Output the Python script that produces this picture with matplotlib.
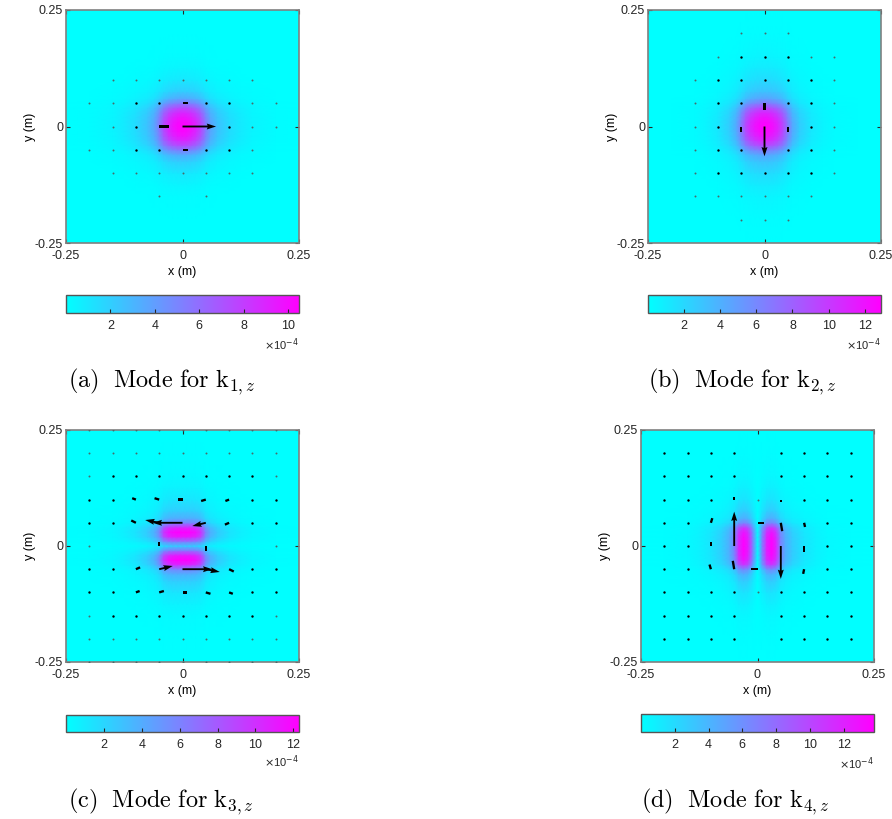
import numpy as np
import matplotlib
matplotlib.use("Agg")
import matplotlib.pyplot as plt

plt.rcParams['font.family'] = ['Liberation Sans', 'DejaVu Sans']

# field profiles, at these offsets from the centre (m),
# mirrored about 0 (values are fractions of each panel's peak)
half_pos = [0, 0.01, 0.02, 0.03, 0.04, 0.05, 0.06, 0.075, 0.1, 0.125, 0.15, 0.2, 0.25]

prof_x_a = [1.0, 0.98, 0.93, 0.85, 0.72, 0.52, 0.36, 0.24, 0.14, 0.08, 0.04, 0.01, 0]
prof_y_a = [1.0, 0.98, 0.93, 0.85, 0.72, 0.52, 0.34, 0.20, 0.09, 0.04, 0.015, 0, 0]
prof_x_b = [1.0, 0.98, 0.93, 0.85, 0.72, 0.52, 0.34, 0.20, 0.09, 0.04, 0.015, 0, 0]
prof_y_b = [1.0, 0.98, 0.93, 0.85, 0.72, 0.52, 0.36, 0.24, 0.14, 0.08, 0.04, 0.01, 0]
prof_x_c = [1.0, 1.0, 0.98, 0.93, 0.80, 0.48, 0.32, 0.21, 0.11, 0.06, 0.03, 0.008, 0]
prof_y_c = [0.2, 0.55, 0.90, 1.0, 0.85, 0.48, 0.32, 0.20, 0.10, 0.05, 0.02, 0.005, 0]
prof_x_d = [0.02, 0.50, 0.88, 1.0, 0.85, 0.48, 0.32, 0.20, 0.10, 0.05, 0.02, 0.005, 0]
prof_y_d = [1.0, 1.0, 0.98, 0.93, 0.80, 0.48, 0.32, 0.21, 0.11, 0.06, 0.03, 0.008, 0]

# colourbar maxima (x 1e-4)
peaks = [10.5, 12.9, 12.3, 13.8]
cbar_ticks = [[2, 4, 6, 8, 10], [2, 4, 6, 8, 10, 12], [2, 4, 6, 8, 10, 12], [2, 4, 6, 8, 10, 12]]

# quiver grid: columns x = -0.25..0.25, rows y = 0.25..-0.25 (step 0.05)
# 'o' = visible dot, '.' = faint dot
dots_a = ["           ",
          "           ",
          "           ",
          "  .......  ",
          " ..oo oo.. ",
          "  .o   o.. ",
          " ..oo oo.  ",
          "  .......  ",
          "    . .    ",
          "           ",
          "           "]
dots_b = ["           ",
          "    ...    ",
          "   .ooo..  ",
          "  .ooooo.  ",
          "  .oo oo.  ",
          "  .o   o.  ",
          "  .oo oo.  ",
          "  .ooooo.  ",
          "  ......   ",
          "    ...    ",
          "           "]
dots_c = [" ......... ",
          " ......... ",
          " .ooooooo. ",
          " oo     oo ",
          " oo     oo ",
          " .       . ",
          " oo     oo ",
          " oo     oo ",
          " .ooooooo. ",
          " ......... ",
          " ......... "]
dots_d = ["           ",
          " oooo oooo ",
          " oooo oooo ",
          " ooo . ooo ",
          " oo     oo ",
          " oo     oo ",
          " oo     oo ",
          " oooo.oooo ",
          " oooo oooo ",
          " oooo oooo ",
          "           "]

# arrows (x, y, u, v) in metres as drawn
arrows_a = [(0, 0, 0.072, 0), (-0.05, 0, 0.02, 0),
            (0, 0.05, 0.012, 0), (0, -0.05, 0.012, 0)]
arrows_b = [(0, 0, 0, -0.064), (0, 0.05, 0, -0.015),
            (-0.05, 0, 0, -0.012), (0.05, 0, 0, -0.012)]
arrows_c = [(-0.1, 0.1, -0.008, 0.003), (-0.05, 0.1, -0.01, 0.003), (0, 0.1, -0.01, 0),
            (0.05, 0.1, -0.01, -0.003), (0.1, 0.1, -0.008, -0.003),
            (-0.1, 0.05, -0.01, 0.005), (-0.05, 0.05, -0.03, 0.006), (0, 0.05, -0.064, 0),
            (0.05, 0.05, -0.029, -0.007), (0.1, 0.05, -0.009, -0.004),
            (-0.05, 0, 0, 0.009), (0.05, 0, 0, -0.01),
            (-0.1, -0.05, 0.009, 0.004), (-0.05, -0.05, 0.029, 0.007), (0, -0.05, 0.064, 0),
            (0.05, -0.05, 0.03, -0.006), (0.1, -0.05, 0.01, -0.005),
            (-0.1, -0.1, 0.008, 0.003), (-0.05, -0.1, 0.01, 0.003), (0, -0.1, 0.01, 0),
            (0.05, -0.1, 0.01, -0.003), (0.1, -0.1, 0.008, -0.003)]
arrows_d = [(-0.05, 0, 0, 0.074), (0.05, 0, 0, -0.071),
            (-0.1, 0, 0, 0.009), (0.1, 0, 0, -0.012),
            (-0.1, 0.05, 0.003, 0.01), (-0.1, -0.05, -0.003, 0.01),
            (-0.05, -0.05, -0.003, 0.018), (0, 0.05, 0.013, 0), (0, -0.05, -0.013, 0),
            (0.05, 0.05, 0.003, -0.018), (0.1, 0.05, 0.002, -0.009), (0.1, -0.05, -0.002, -0.01),
            (-0.05, 0.1, 0, 0.006), (0.05, 0.1, 0, -0.006)]

captions = [r'$\mathrm{(a)\ \ Mode\ for\ k}_{1,z}$', r'$\mathrm{(b)\ \ Mode\ for\ k}_{2,z}$',
            r'$\mathrm{(c)\ \ Mode\ for\ k}_{3,z}$', r'$\mathrm{(d)\ \ Mode\ for\ k}_{4,z}$']

profiles = [(prof_x_a, prof_y_a), (prof_x_b, prof_y_b), (prof_x_c, prof_y_c), (prof_x_d, prof_y_d)]
dots = [dots_a, dots_b, dots_c, dots_d]
arrows = [arrows_a, arrows_b, arrows_c, arrows_d]

W, H = 892, 819
# pixel boxes of the panels: (left, top, right, bottom)
ax_px = [(66, 10, 299, 243), (648, 10, 881, 243), (66, 430, 299, 662), (641, 430, 874, 662)]
cb_px = [(66, 295, 299, 313), (648, 295, 881, 313), (66, 715, 299, 732), (641, 714, 874, 732)]
cap_px = [(162, 382), (742, 382), (161, 802), (735, 802)]


def frac(box):
    l, t, r, b = box
    return [l / W, 1 - b / H, (r - l) / W, (b - t) / H]


def mirror(vals, neg=False):
    vals = list(vals)
    left = [-v for v in vals[::-1]] if neg else vals[::-1]
    return np.array(left[:-1] + vals)


fig = plt.figure(figsize=(W / 100, H / 100), dpi=100)
grid = np.round(np.arange(-0.25, 0.2501, 0.05), 2)
edge = '#808080'

for i in range(4):
    ax = fig.add_axes(frac(ax_px[i]))
    px, py = profiles[i]
    pos = mirror(half_pos, neg=True)
    Z = np.outer(mirror(py), mirror(px)) * peaks[i]
    mesh = ax.pcolormesh(pos, pos, Z, cmap='cool', vmin=0, vmax=peaks[i], shading='gouraud')

    # dots
    for r, row in enumerate(dots[i]):
        for c, ch in enumerate(row):
            if ch == 'o':
                ax.scatter(grid[c], grid[::-1][r], s=3, color='black', lw=0, zorder=3)
            elif ch == '.':
                ax.scatter(grid[c], grid[::-1][r], s=2, color='#4a6a6a', lw=0, zorder=3)

    # long arrows get heads, short ones are drawn as plain dashes
    big = [a for a in arrows[i] if np.hypot(a[2], a[3]) >= 0.025]
    small = [a for a in arrows[i] if np.hypot(a[2], a[3]) < 0.025]
    xs, ys, us, vs = zip(*big)
    ax.quiver(xs, ys, us, vs, angles='xy', scale_units='xy', scale=1, units='width',
              width=0.008, headwidth=3.2, headlength=5, headaxislength=4.5, color='black', zorder=4)
    if small:
        xs, ys, us, vs = zip(*small)
        ax.quiver(xs, ys, us, vs, angles='xy', scale_units='xy', scale=1, units='width',
                  width=0.01, headwidth=1, headlength=0, headaxislength=0, color='black', zorder=4)

    ax.set_xlim(-0.25, 0.25)
    ax.set_ylim(-0.25, 0.25)
    ax.set_aspect('auto')
    ax.set_xticks([-0.25, 0, 0.25])
    ax.set_yticks([-0.25, 0, 0.25])
    ax.set_xticklabels(['-0.25', '0', '0.25'])
    ax.set_yticklabels(['-0.25', '0', '0.25'])
    ax.tick_params(direction='in', length=3, labelsize=9, colors='#262626', pad=2)
    ax.tick_params(axis='x', pad=5)
    ax.tick_params(top=True, right=True)
    ax.set_xlabel('x (m)', fontsize=9, labelpad=3)
    ax.set_ylabel('y (m)', fontsize=9, labelpad=-1)
    for s in ax.spines.values():
        s.set_color(edge)
        s.set_linewidth(1.2)

    cax = fig.add_axes(frac(cb_px[i]))
    cb = fig.colorbar(mesh, cax=cax, orientation='horizontal', ticks=cbar_ticks[i])
    cb.outline.set_edgecolor('#555555')
    cb.outline.set_linewidth(1.0)
    cax.tick_params(direction='in', length=3, labelsize=9, colors='#262626', pad=5)
    cax.text(1.0, -1.75, r'$\times$10$^{-4}$', transform=cax.transAxes, ha='right',
             va='center', fontsize=8, color='#262626')

    fig.text(cap_px[i][0] / W, 1 - cap_px[i][1] / H, captions[i], ha='center', va='center',
             fontsize=17.5, math_fontfamily='cm')

fig.savefig('out.png', dpi=100)
